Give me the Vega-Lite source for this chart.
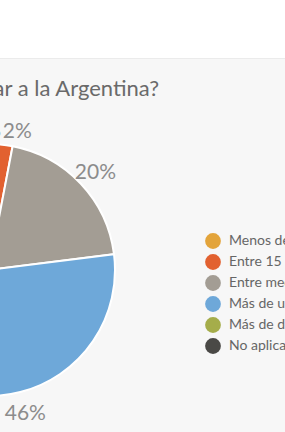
{
  "$schema": "https://vega.github.io/schema/vega-lite/v6.json",
  "autosize": {"type": "none"},
  "padding": {"left": -311, "top": 58, "right": 0, "bottom": 0},
  "width": 600,
  "height": 424,
  "background": "#ffffff",
  "view": {"fill": "#f7f7f7", "stroke": "#ebebeb", "strokeWidth": 1},
  "title": {
    "text": "¿Cuándo pensás regresar a la Argentina?",
    "anchor": "end",
    "frame": "group",
    "dx": -130,
    "offset": -43,
    "fontSize": 22,
    "font": "Lato",
    "fontWeight": "normal",
    "color": "#6a6a6a"
  },
  "data": {
    "values": [
      {"idx": 1, "categoria": "Menos de 15 días", "pct": 0.01},
      {"idx": 2, "categoria": "Entre 15 meses y un año", "pct": 0.02},
      {"idx": 3, "categoria": "Entre medio año y un año", "pct": 0.20},
      {"idx": 4, "categoria": "Más de un año", "pct": 0.46},
      {"idx": 5, "categoria": "Más de dos años", "pct": 0.05},
      {"idx": 6, "categoria": "No aplica", "pct": 0.26}
    ]
  },
  "encoding": {
    "theta": {"field": "pct", "type": "quantitative", "stack": true},
    "order": {"field": "idx", "type": "quantitative"}
  },
  "layer": [
    {
      "mark": {"type": "arc", "outerRadius": 126, "stroke": "#ffffff", "strokeWidth": 2},
      "encoding": {
        "color": {
          "field": "categoria",
          "type": "nominal",
          "sort": null,
          "scale": {
            "domain": ["Menos de 15 días", "Entre 15 meses y un año", "Entre medio año y un año", "Más de un año", "Más de dos años", "No aplica"],
            "range": ["#e3a43b", "#e26130", "#a39d94", "#6ea8d9", "#a5ad4a", "#4a4946"]
          },
          "legend": {
            "orient": "none",
            "legendX": 516,
            "legendY": 175,
            "title": null,
            "symbolType": "circle",
            "symbolSize": 250,
            "symbolStrokeWidth": 0,
            "labelFontSize": 14,
            "labelFont": "Lato",
            "labelColor": "#666666",
            "labelOffset": 8,
            "rowPadding": 5
          }
        }
      }
    },
    {
      "mark": {
        "type": "text",
        "radius": 146,
        "fontSize": 21,
        "font": "Lato",
        "color": "#8c8c8c",
        "dx": {"expr": "datum.idx == 1 ? -7 : datum.idx == 2 ? 10 : 0"},
        "dy": {"expr": "datum.idx <= 2 ? 7 : 3"}
      },
      "encoding": {
        "text": {"field": "pct", "type": "quantitative", "format": ".0%"}
      }
    }
  ]
}
